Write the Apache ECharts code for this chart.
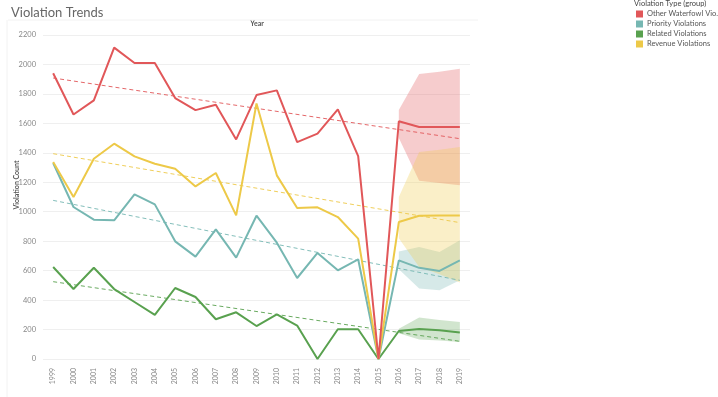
<!DOCTYPE html>
<html>
<head>
<meta charset="utf-8">
<script src="https://cdn.jsdelivr.net/npm/echarts@6/dist/echarts.min.js"></script>
<style>
  html, body { margin: 0; padding: 0; background: #fff; }
  #chart { width: 718px; height: 397px; }
</style>
</head>
<body>
<div id="chart"></div>
<script>
// data
const years = ['1999', '2000', '2001', '2002', '2003', '2004', '2005', '2006', '2007', '2008', '2009',
    '2010', '2011', '2012', '2013', '2014', '2015', '2016', '2017', '2018', '2019'];

const groups = ['Other Waterfowl Violations', 'Priority Violations', 'Related Violations', 'Revenue Violations'];

const otherVals    = [1940, 1660, 1756, 2114, 2010, 2010, 1772, 1690, 1727, 1491, 1792, 1824, 1473, 1530, 1695, 1378, 0, 1614, 1575, 1575, 1575];
const priorityVals = [1331, 1032, 946, 942, 1118, 1050, 799, 695, 880, 688, 973, 790, 550, 720, 602, 677, 0, 670, 619, 598, 670];
const relatedVals  = [625, 475, 620, 475, 387, 299, 482, 421, 270, 317, 224, 303, 227, 0, 202, 202, 0, 190, 204, 196, 180];
const revenueVals  = [1337, 1100, 1360, 1462, 1376, 1326, 1292, 1172, 1263, 975, 1735, 1247, 1025, 1030, 964, 817, 0, 930, 973, 975, 975];

// trend line values at 1999 and 2019 (same order as groups)
const trendStart = [1908, 1077, 525, 1394];
const trendEnd   = [1496, 534, 120, 926];

// forecast bands, 2016..2019
const bandYears = ['2016', '2017', '2018', '2019'];
const otherLow     = [1500, 1210, 1195, 1180];
const otherHigh    = [1690, 1935, 1950, 1970];
const priorityLow  = [610, 478, 466, 534];
const priorityHigh = [730, 760, 726, 806];
const relatedLow   = [175, 132, 125, 115];
const relatedHigh  = [205, 281, 265, 251];
const revenueLow   = [820, 625, 575, 520];
const revenueHigh  = [1100, 1405, 1420, 1440];

const yTicks = [0, 200, 400, 600, 800, 1000, 1200, 1400, 1600, 1800, 2000, 2200];

const colors = ['#e15759', '#76b7b2', '#59a14f', '#edc948'];
const bandColors = ['rgba(225,87,89,0.30)', 'rgba(118,183,178,0.30)', 'rgba(89,161,79,0.28)', 'rgba(237,201,72,0.30)'];

const values = [otherVals, priorityVals, relatedVals, revenueVals];
const lows = [otherLow, priorityLow, relatedLow, revenueLow];
const highs = [otherHigh, priorityHigh, relatedHigh, revenueHigh];

const chart = echarts.init(document.getElementById('chart'));

function fullRow(arr) {
    // put band values on the year axis, null elsewhere
    return years.map(y => {
        let i = bandYears.indexOf(y);
        return i < 0 ? null : arr[i];
    });
}

let series = [];

// bands first so they sit underneath
groups.forEach((g, k) => {
    let low = fullRow(lows[k]);
    let high = fullRow(highs[k]);
    series.push({
        name: 'band-low-' + k,
        type: 'line',
        stack: 'band' + k,
        data: low,
        symbol: 'none',
        lineStyle: { opacity: 0 },
        silent: true,
        z: 1
    });
    series.push({
        name: 'band-high-' + k,
        type: 'line',
        stack: 'band' + k,
        data: high.map((v, i) => v == null ? null : v - low[i]),
        symbol: 'none',
        lineStyle: { opacity: 0 },
        areaStyle: { color: bandColors[k], opacity: 1 },
        silent: true,
        z: 1
    });
});

// dashed trend lines
groups.forEach((g, k) => {
    let d = years.map(() => null);
    d[0] = trendStart[k];
    d[years.length - 1] = trendEnd[k];
    series.push({
        name: 'trend-' + k,
        type: 'line',
        data: d,
        connectNulls: true,
        symbol: 'none',
        lineStyle: { color: colors[k], width: 1, type: [4, 3], opacity: 0.9 },
        silent: true,
        z: 2
    });
});

// actual lines, red drawn last
[2, 1, 3, 0].forEach(k => {
    series.push({
        name: groups[k],
        type: 'line',
        data: values[k],
        symbol: 'none',
        itemStyle: { color: colors[k] },
        lineStyle: { color: colors[k], width: 2 },
        z: 3
    });
});

const option = {
    animation: false,
    textStyle: { fontFamily: 'Lato, "Open Sans", sans-serif' },
    title: {
        text: 'Violation Trends',
        left: 6,
        top: 1,
        textStyle: { fontSize: 13, fontWeight: 'normal', color: '#666', fontFamily: 'Lato, sans-serif' }
    },
    legend: {
        data: groups.map((g, k) => ({ name: g, itemStyle: { color: colors[k] } })),
        orient: 'vertical',
        left: 636,
        top: 10,
        padding: 0,
        icon: 'rect',
        itemWidth: 7,
        itemHeight: 7,
        itemGap: 2,
        selectedMode: false,
        formatter: function (name) {
            return name.length > 20 ? name.slice(0, 19) + '...' : name;
        },
        textStyle: { fontSize: 7.5, color: '#555', padding: [0, 0, 0, -1] }
    },
    grid: { left: 43, right: 248, top: 35, bottom: 38 },
    xAxis: {
        type: 'category',
        data: years,
        boundaryGap: true,
        axisLine: { show: false },
        axisTick: { show: false },
        axisLabel: { rotate: 90, fontSize: 7, color: '#888', margin: 9 }
    },
    yAxis: {
        type: 'value',
        min: yTicks[0],
        max: yTicks[yTicks.length - 1],
        interval: 200,
        axisLine: { show: false },
        axisTick: { show: false },
        axisLabel: { fontSize: 7.5, color: '#888', margin: 7, formatter: v => String(v) },
        splitLine: { lineStyle: { color: '#efefef', width: 1 } }
    },
    graphic: [
        {
            type: 'text',
            left: 634,
            top: 0,
            style: { text: 'Violation Type (group)', fontSize: 7.5, fill: '#444', fontFamily: 'Lato, sans-serif' }
        },
        {
            type: 'text',
            x: 257,
            y: 24,
            style: { text: 'Year', fontSize: 7, fontWeight: 'bold', fill: '#555', align: 'center', verticalAlign: 'middle', fontFamily: 'Lato, sans-serif' }
        },
        {
            type: 'text',
            x: 17,
            y: 185,
            rotation: Math.PI / 2,
            style: { text: 'Violation Count', fontSize: 7, fontWeight: 'bold', fill: '#555', align: 'center', verticalAlign: 'middle', fontFamily: 'Lato, sans-serif' }
        },
        {
            type: 'line',
            shape: { x1: 8, y1: 20, x2: 478, y2: 20 },
            style: { stroke: '#f2f2f2', lineWidth: 1 }
        },
        {
            type: 'line',
            shape: { x1: 7, y1: 20, x2: 7, y2: 397 },
            style: { stroke: '#f2f2f2', lineWidth: 1 }
        }
    ],
    series: series
};

chart.setOption(option);
</script>
</body>
</html>
